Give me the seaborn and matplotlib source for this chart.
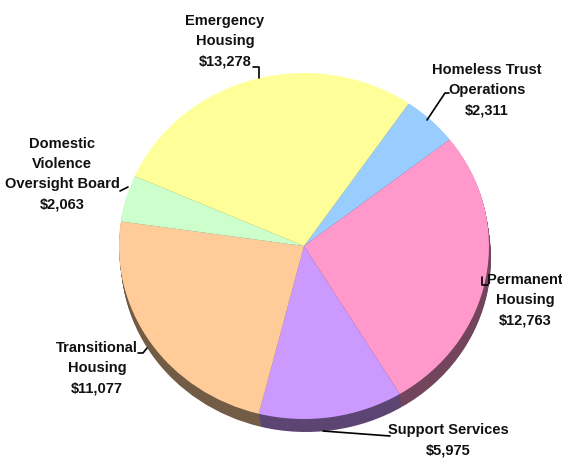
import matplotlib
matplotlib.use("Agg")
import matplotlib.pyplot as plt
import seaborn as sns
import numpy as np

# ---- data ----
categories = ["Homeless Trust\nOperations", "Permanent\nHousing", "Support Services",
              "Transitional\nHousing", "Domestic\nViolence\nOversight Board", "Emergency\nHousing"]
values = [2311, 12763, 5975, 11077, 2063, 13278]
slice_colors = ["#99CCFF", "#FF99CC", "#CC99FF", "#FFCC99", "#CCFFCC", "#FFFF99"]

sns.set_theme(style="white")
plt.rcParams['font.family'] = ['Liberation Sans', 'DejaVu Sans']

W, H = 562, 458
fig = plt.figure(figsize=(W / 100, H / 100), dpi=100)
fig.patch.set_facecolor("white")

palette = sns.color_palette(slice_colors)
rim_palette = [tuple(np.array(c) * 0.45) for c in palette]

# pie bounding box in pixels (top face)
x0, x1, y0, y1 = 119, 489, 73, 419
depth = 13

def px_axes(xa, xb, ya, yb):
    return fig.add_axes([xa / W, (H - yb) / H, (xb - xa) / W, (yb - ya) / H])

# rim (depth) layers, extruded down and slightly right
for d in range(depth, 0, -1):
    sx = d * 0.15
    axr = px_axes(x0 + sx, x1 + sx, y0 + d, y1 + d)
    axr.pie(values, colors=rim_palette, startangle=55.5, counterclock=False,
            wedgeprops=dict(linewidth=0))
    axr.set_aspect('auto')
    axr.set_xlim(-1, 1); axr.set_ylim(-1, 1)
    axr.axis('off')
    axr.patch.set_alpha(0)

# top face
ax = px_axes(x0, x1, y0, y1)
ax.pie(values, colors=palette, startangle=55.5, counterclock=False,
       wedgeprops=dict(linewidth=0))
ax.set_aspect('auto')
ax.set_xlim(-1, 1); ax.set_ylim(-1, 1)
ax.axis('off')
ax.patch.set_alpha(0)

# overlay for labels (pixel coordinates)
ov = fig.add_axes([0, 0, 1, 1])
ov.set_xlim(0, W); ov.set_ylim(H, 0)
ov.axis('off')
ov.patch.set_alpha(0)

label_pos = [(487, 90), (525, 300), (448, 440), (97, 368), (62, 174), (225, 41)]
leaders = [
    [(449, 93), (445, 93), (427, 120)],
    [(482, 277), (482, 285), (488, 285)],
    [(323, 431), (390, 436)],
    [(138, 353), (143, 353), (147, 348)],
    [(120, 191), (124, 189), (128, 187)],
    [(253, 67), (259, 67), (259, 78)],
]
for cat, val, (lx, ly), ld in zip(categories, values, label_pos, leaders):
    ov.text(lx, ly, f"{cat}\n${val:,}", ha='center', va='center',
            fontsize=10.5, fontweight='bold', color='#111111', linespacing=1.55)
    xs, ys = zip(*ld)
    ov.plot(xs, ys, color='black', lw=1.2)

fig.savefig("out.png", dpi=100, facecolor="white")
